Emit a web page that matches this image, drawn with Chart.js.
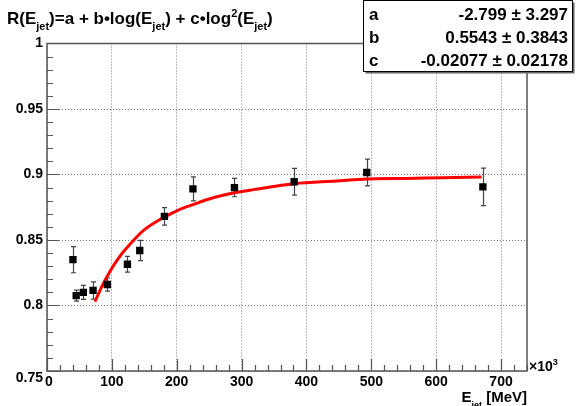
<!DOCTYPE html>
<html>
<head>
<meta charset="utf-8">
<script src="https://cdn.jsdelivr.net/npm/chart.js@4.4.1/dist/chart.umd.min.js"></script>
<style>
  html, body { margin: 0; padding: 0; background: #fff; }
  #wrap { width: 576px; height: 406px; position: relative; }
</style>
</head>
<body>
<div id="wrap"><canvas id="respChart"></canvas></div>
<script>
// ---- datos (E_jet en unidades de 10^3 MeV) ----
const energy      = [40, 45, 56, 71, 93, 124, 143, 181, 225, 289, 381, 493, 672];
const response    = [0.835, 0.8075, 0.810, 0.8115, 0.816, 0.8315, 0.842, 0.868, 0.889, 0.890, 0.8945, 0.9015, 0.8905];
const responseErr = [0.010, 0.0042, 0.0054, 0.0066, 0.005, 0.006, 0.0077, 0.0067, 0.0092, 0.007, 0.0102, 0.0102, 0.0143];

// curva de ajuste (roja), puntos leidos sobre la linea
const fitE = [74, 85, 97, 110, 123, 148, 181, 201, 225, 251, 289, 313, 344, 381, 446, 493, 554, 610, 670];
const fitR = [0.803, 0.815, 0.826, 0.836, 0.844, 0.857, 0.8675, 0.8725, 0.877, 0.8815, 0.886, 0.888, 0.8905, 0.893, 0.895, 0.8965, 0.897, 0.8975, 0.898];

const xTicks = [0, 100, 200, 300, 400, 500, 600, 700];
const xTickLabels = ['0', '100', '200', '300', '400', '500', '600', '700'];
const yTicks = [0.75, 0.8, 0.85, 0.9, 0.95, 1];
const yTickLabels = ['0.75', '0.8', '0.85', '0.9', '0.95', '1'];

const statNames  = ['a', 'b', 'c'];
const statValues = ['-2.799 \u00b1 3.297', '0.5543 \u00b1 0.3843', '-0.02077 \u00b1 0.02178'];

const FONT = '"Liberation Sans", Arial, Helvetica, sans-serif';

// texto con subindices / superindices: [texto, tipo] tipo: 0 normal, 1 sub, 2 sup
function drawRich(ctx, parts, x, y, size) {
    let cx = x;
    parts.forEach(([t, kind]) => {
        const s = kind ? Math.round(size * 0.62) : size;
        ctx.font = `bold ${s}px ${FONT}`;
        const dy = kind === 1 ? size * 0.38 : kind === 2 ? -size * 0.42 : 0;
        ctx.fillText(t, cx, y + dy);
        cx += ctx.measureText(t).width;
    });
    return cx - x;
}
function richWidth(ctx, parts, size) {
    let w = 0;
    parts.forEach(([t, kind]) => {
        const s = kind ? Math.round(size * 0.62) : size;
        ctx.font = `bold ${s}px ${FONT}`;
        w += ctx.measureText(t).width;
    });
    return w;
}

const rootDecor = {
    id: 'rootDecor',
    beforeDatasetsDraw(chart) {
        // barras de error
        const { ctx, scales: { x, y } } = chart;
        ctx.save();
        ctx.strokeStyle = '#444';
        ctx.lineWidth = 1.2;
        energy.forEach((e, i) => {
            const px = Math.round(x.getPixelForValue(e)) + 0.5;
            const y1 = y.getPixelForValue(response[i] + responseErr[i]);
            const y2 = y.getPixelForValue(response[i] - responseErr[i]);
            ctx.beginPath();
            ctx.moveTo(px, y1); ctx.lineTo(px, y2);
            ctx.moveTo(px - 2.5, y1); ctx.lineTo(px + 2.5, y1);
            ctx.moveTo(px - 2.5, y2); ctx.lineTo(px + 2.5, y2);
            ctx.stroke();
        });
        ctx.restore();
    },
    afterDraw(chart) {
        const { ctx, chartArea: a, scales: { x, y } } = chart;
        ctx.save();

        // marco
        ctx.strokeStyle = '#555';
        ctx.lineWidth = 1.5;
        ctx.strokeRect(a.left, a.top, a.right - a.left, a.bottom - a.top);

        // ticks eje Y (hacia dentro)
        ctx.lineWidth = 1.2;
        ctx.beginPath();
        for (let v = 0.75; v <= 1.0001; v += 0.01) {
            const py = Math.round(y.getPixelForValue(v)) + 0.5;
            const major = Math.abs(v * 20 - Math.round(v * 20)) < 1e-6;
            ctx.moveTo(a.left, py);
            ctx.lineTo(a.left + (major ? 12 : 6), py);
        }
        // ticks eje X
        for (let v = 0; v <= 740; v += 20) {
            const px = Math.round(x.getPixelForValue(v)) + 0.5;
            const major = v % 100 === 0;
            ctx.moveTo(px, a.bottom);
            ctx.lineTo(px, a.bottom - (major ? 12 : 6));
        }
        ctx.stroke();

        // etiquetas
        ctx.fillStyle = '#000';
        ctx.font = `bold 14px ${FONT}`;
        ctx.textBaseline = 'middle';
        ctx.textAlign = 'right';
        yTicks.forEach((v, i) => {
            const off = i === 0 ? 7 : 0;
            ctx.fillText(yTickLabels[i], 43, y.getPixelForValue(v) + off);
        });
        ctx.textAlign = 'center';
        xTicks.forEach((v, i) => {
            ctx.fillText(xTickLabels[i], x.getPixelForValue(v) + (i === 0 ? 2 : 0), 382);
        });

        // x10^3
        ctx.textAlign = 'left';
        ctx.textBaseline = 'alphabetic';
        drawRich(ctx, [['\u00d710', 0], ['3', 2]], a.right + 2, 371, 14);

        // titulo eje X
        const axParts = [['E', 0], ['jet', 1], [' [MeV]', 0]];
        const axW = richWidth(ctx, axParts, 15);
        drawRich(ctx, axParts, a.right - axW, 402, 15);

        // titulo
        drawRich(ctx, [['R(E', 0], ['jet', 1], [')=a + b\u2022log(E', 0], ['jet', 1],
                       [') + c\u2022log', 0], ['2', 2], ['(E', 0], ['jet', 1], [')', 0]], 7, 24, 17);

        // caja de estadisticas
        const bx = 363.5, by = 0.5, bw = 209, bh = 71;
        ctx.fillStyle = '#666';
        ctx.fillRect(bx + 2, by + 2, bw, bh);
        ctx.fillStyle = '#fff';
        ctx.fillRect(bx, by, bw, bh);
        ctx.strokeStyle = '#000';
        ctx.lineWidth = 1;
        ctx.strokeRect(bx, by, bw, bh);
        ctx.fillStyle = '#000';
        ctx.font = `bold 17px ${FONT}`;
        statNames.forEach((n, i) => {
            const base = 20 + i * 23;
            ctx.textAlign = 'left';
            ctx.fillText(n, 369, base);
            ctx.textAlign = 'right';
            ctx.fillText(statValues[i], 568, base);
        });
        ctx.restore();
    }
};

const ctx = document.getElementById('respChart').getContext('2d');
new Chart(ctx, {
    type: 'scatter',
    data: {
        datasets: [
            {
                label: 'datos',
                data: energy.map((e, i) => ({ x: e, y: response[i] })),
                pointStyle: 'rect',
                pointRadius: 5.2,
                pointBackgroundColor: '#000',
                pointBorderColor: '#000',
                pointBorderWidth: 0
            },
            {
                label: 'ajuste',
                type: 'line',
                data: fitE.map((e, i) => ({ x: e, y: fitR[i] })),
                borderColor: '#ff0000',
                borderWidth: 3,
                pointRadius: 0,
                fill: false,
                cubicInterpolationMode: 'monotone'
            }
        ]
    },
    options: {
        responsive: true,
        maintainAspectRatio: false,
        animation: false,
        layout: { padding: { top: 43.5, right: 49, left: 0, bottom: 0 } },
        plugins: { legend: { display: false }, tooltip: { enabled: false } },
        scales: {
            x: {
                type: 'linear',
                min: 0,
                max: 740,
                afterBuildTicks: s => { s.ticks = xTicks.map(v => ({ value: v })); },
                afterFit: s => { s.height = 35; },
                ticks: { display: false },
                grid: { color: '#777', lineWidth: 1, drawTicks: false },
                border: { display: false, dash: [1, 2] }
            },
            y: {
                min: 0.75,
                max: 1,
                afterBuildTicks: s => { s.ticks = yTicks.map(v => ({ value: v })); },
                afterFit: s => { s.width = 47; },
                ticks: { display: false },
                grid: { color: '#777', lineWidth: 1, drawTicks: false },
                border: { display: false, dash: [1, 2] }
            }
        }
    },
    plugins: [rootDecor]
});
</script>
</body>
</html>
